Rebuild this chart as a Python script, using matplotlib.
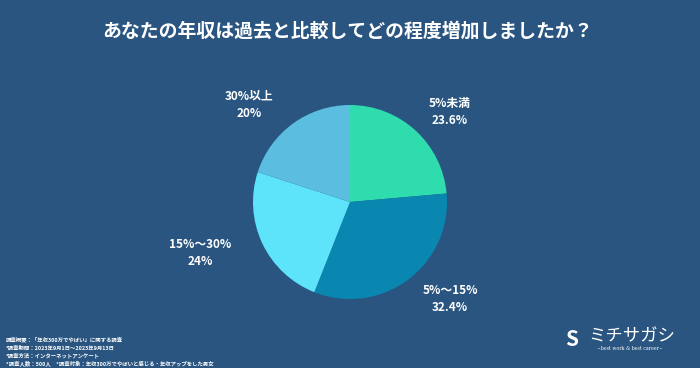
import matplotlib
matplotlib.use("Agg")
import matplotlib.pyplot as plt

plt.rcParams['font.family'] = ['Noto Sans CJK JP', 'DejaVu Sans']

title = "あなたの年収は過去と比較してどの程度増加しましたか？"
categories = ["5%未満", "5%～15%", "15%～30%", "30%以上"]
values = [23.6, 32.4, 24, 20]
value_labels = ["23.6%", "32.4%", "24%", "20%"]
colors = ["#2fdcae", "#0a87b0", "#5de3fa", "#5bbde0"]
notes = [
    "調査概要：「年収300万でやばい」に関する調査",
    "*調査期間：2023年9月1日～2023年9月13日",
    "*調査方法：インターネットアンケート",
    "*調査人数：500人　*調査対象：年収300万でやばいと感じる・年収アップをした男女",
]
bg = "#295580"

W, H = 700, 368
fig = plt.figure(figsize=(7, 3.68), dpi=100, facecolor=bg)

fig.text(348 / W, 1 - 31 / H, title, ha="center", va="center",
         color="white", fontsize=13.6, fontweight="bold")

cx, cy, r = 350, 202, 97
ax = fig.add_axes([(cx - r) / W, 1 - (cy + r) / H, 2 * r / W, 2 * r / H])
ax.pie(values, colors=colors, startangle=90, counterclock=False,
       wedgeprops=dict(linewidth=0))
ax.set_aspect("equal")
ax.set_xlim(-1, 1)
ax.set_ylim(-1, 1)
ax.axis("off")

label_pos = [(450, 112), (450, 299), (200, 253), (249, 105)]
for (x, y), cat, vl in zip(label_pos, categories, value_labels):
    fig.text(x / W, 1 - y / H, cat + "\n" + vl, ha="center", va="center",
             color="white", fontsize=8.5, fontweight="bold", linespacing=1.45)

ys = [340, 348, 356, 364]
for y, t in zip(ys, notes):
    fig.text(6 / W, 1 - y / H, t, ha="left", va="center", color="white",
             fontsize=3.9, fontweight="bold")

fig.text(588 / W, 1 - 336 / H, "ミチサガシ", ha="left", va="center",
         color="white", fontsize=12.5)
fig.text(630 / W, 1 - 349 / H, "~best work & best career~", ha="center", va="center",
         color="white", fontsize=3.3, family=["DejaVu Serif"])
fig.text(572 / W, 1 - 339 / H, "S", ha="center", va="center",
         color="white", fontsize=15, fontweight="bold", style="italic")

fig.savefig("out.png", dpi=100, facecolor=bg)
